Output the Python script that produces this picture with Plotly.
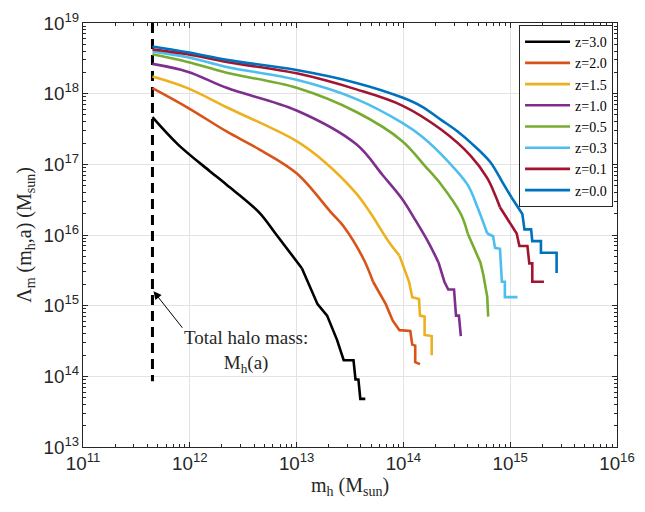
import numpy as np
import plotly.graph_objects as go

labels = ["z=3.0", "z=2.0", "z=1.5", "z=1.0", "z=0.5", "z=0.3", "z=0.1", "z=0.0"]
colors = ["#000000", "#D95319", "#EDB120", "#7E2F8E", "#77AC30", "#4DBEEE", "#A2142F", "#0072BD"]

m_z30 = [4.47e11, 7.73e11, 1.55e12, 2.21e12, 4.43e12, 6.34e12, 1.12e13, 1.57e13, 1.93e13, 2.39e13, 2.76e13, 3.41e13, 3.56e13, 3.79e13, 3.95e13, 4.40e13]
L_z30 = [4.65e17, 1.92e17, 7.94e16, 5.15e16, 2.11e16, 1.05e16, 3.39e15, 1.05e15, 7.23e14, 3.28e14, 1.69e14, 1.69e14, 9.02e13, 9.02e13, 4.80e13, 4.80e13]

m_z20 = [4.47e11, 9.53e11, 2.21e12, 4.43e12, 1.0e13, 2.09e13, 2.76e13, 4.21e13, 5.20e13, 6.84e13, 7.93e13, 9.18e13, 1.16e14, 1.21e14, 1.29e14, 1.29e14, 1.43e14]
L_z20 = [1.20e18, 6.37e17, 2.92e17, 1.64e17, 7.46e16, 2.11e16, 1.32e16, 4.65e15, 2.18e15, 1.05e15, 6.17e14, 4.50e14, 4.37e14, 2.81e14, 2.72e14, 1.59e14, 1.49e14]

m_z15 = [4.47e11, 9.53e11, 2.21e12, 1.0e13, 1.82e13, 3.63e13, 4.85e13, 7.43e13, 9.18e13, 1.13e14, 1.21e14, 1.40e14, 1.43e14, 1.58e14, 1.58e14, 1.84e14, 1.84e14]
L_z15 = [1.75e18, 1.20e18, 6.43e17, 2.13e17, 1.09e17, 3.85e16, 2.11e16, 7.69e15, 5.11e15, 2.18e15, 1.32e15, 1.24e15, 7.23e14, 7.00e14, 3.85e14, 3.72e14, 1.98e14]

m_z10 = [4.47e11, 9.53e11, 2.21e12, 1.0e13, 3.63e13, 6.41e13, 9.77e13, 1.29e14, 1.73e14, 2.13e14, 2.42e14, 2.63e14, 2.98e14, 3.11e14, 3.31e14, 3.45e14]
L_z10 = [2.64e18, 2.05e18, 1.21e18, 5.79e17, 1.92e17, 7.00e16, 3.21e16, 1.64e16, 7.69e15, 4.09e15, 2.18e15, 1.69e15, 1.69e15, 7.23e14, 7.23e14, 3.72e14]

m_z05 = [4.47e11, 9.53e11, 2.21e12, 1.0e13, 3.63e13, 9.77e13, 1.58e14, 2.27e14, 3.45e14, 4.00e14, 5.26e14, 5.61e14, 6.10e14, 6.22e14]
L_z05 = [3.61e18, 2.81e18, 1.98e18, 1.21e18, 5.50e17, 2.13e17, 9.59e16, 5.11e16, 1.98e16, 1.05e16, 4.09e15, 2.72e15, 1.32e15, 7.00e14]

m_z03 = [4.47e11, 9.53e11, 2.21e12, 1.0e13, 3.63e13, 9.77e13, 1.49e14, 2.63e14, 4.00e14, 4.94e14, 6.10e14, 6.92e14, 7.21e14, 8.02e14, 8.36e14, 8.91e14, 8.91e14, 1.17e15]
L_z03 = [3.97e18, 3.28e18, 2.39e18, 1.57e18, 8.38e17, 3.85e17, 2.47e17, 1.09e17, 5.11e16, 2.47e16, 1.05e16, 9.60e15, 6.58e15, 6.37e15, 2.18e15, 2.18e15, 1.32e15, 1.32e15]

m_z01 = [4.47e11, 9.53e11, 2.21e12, 1.0e13, 3.63e13, 9.77e13, 2.27e14, 4.27e14, 6.10e14, 7.21e14, 8.02e14, 1.15e15, 1.22e15, 1.45e15, 1.51e15, 1.61e15, 1.61e15, 2.07e15]
L_z01 = [4.23e18, 3.61e18, 2.81e18, 1.94e18, 1.15e18, 6.79e17, 3.08e17, 1.32e17, 6.37e16, 3.72e16, 2.47e16, 1.05e16, 7.00e15, 7.00e15, 3.97e15, 3.97e15, 2.18e15, 2.18e15]

m_z00 = [4.47e11, 9.53e11, 2.21e12, 1.0e13, 3.63e13, 9.77e13, 1.49e14, 2.27e14, 3.22e14, 4.27e14, 6.50e14, 8.53e14, 1.03e15, 1.30e15, 1.36e15, 1.57e15, 1.61e15, 1.94e15, 1.94e15, 2.72e15, 2.72e15]
L_z00 = [4.65e18, 3.85e18, 3.01e18, 2.16e18, 1.42e18, 8.81e17, 6.58e17, 4.23e17, 2.92e17, 2.03e17, 1.08e17, 5.46e16, 3.39e16, 1.98e16, 1.20e16, 1.20e16, 8.20e15, 8.20e15, 5.61e15, 5.61e15, 2.90e15]

masses = [m_z30, m_z20, m_z15, m_z10, m_z05, m_z03, m_z01, m_z00]
lambdas = [L_z30, L_z20, L_z15, L_z10, L_z05, L_z03, L_z01, L_z00]
# index where the smooth part ends and the stepped (resolution-limited) tail begins
smooth_end = [6, 8, 8, 9, 9, 10, 10, 12]

halo_mass = 4.47e11
halo_line_y = [1e19, 8.5e13]
arrow_target_y = 1.6e15

serif = "Liberation Serif, Times New Roman, serif"
sans = "Liberation Sans, Arial, Helvetica, sans-serif"
axcol = "#262626"

fig = go.Figure()
fig.add_trace(go.Scatter(x=[halo_mass, halo_mass], y=halo_line_y, mode="lines",
                         line=dict(color="black", width=3, dash="10px,6px"),
                         showlegend=False, hoverinfo="skip"))
for lab, col, mx, ly, k in zip(labels, colors, masses, lambdas, smooth_end):
    fig.add_trace(go.Scatter(x=mx[:k + 1], y=ly[:k + 1], mode="lines", name=lab,
                             line=dict(color=col, width=2.6, shape="spline", smoothing=1.0)))
    fig.add_trace(go.Scatter(x=mx[k:], y=ly[k:], mode="lines", name=lab, showlegend=False,
                             line=dict(color=col, width=2.6)))

axis_common = dict(type="log", showline=True, linecolor=axcol, linewidth=1, mirror="ticks",
                   ticks="inside", ticklen=5, tickcolor=axcol, dtick=1,
                   exponentformat="power", showexponent="all", ticklabeloverflow="allow",
                   showgrid=True, gridcolor="#e3e3e3", gridwidth=1, zeroline=False,
                   tickfont=dict(family=sans, size=15, color=axcol),
                   minor=dict(ticks="inside", ticklen=3, tickcolor=axcol, dtick="D1", showgrid=False))

fig.update_layout(
    width=645, height=512,
    margin=dict(l=83, r=18, t=10, b=65),
    paper_bgcolor="white", plot_bgcolor="white",
    xaxis=dict(range=[11 - 1e-4, 16 + 1e-4],
               title=dict(text="m<sub>h</sub> (M<sub>sun</sub>)", font=dict(family=serif, size=20, color=axcol), standoff=4),
               **axis_common),
    yaxis=dict(range=[13 - 1e-4, 19 + 1e-4],
               title=dict(text="Λ<sub>m</sub> (m<sub>h</sub>,a) (M<sub>sun</sub>)", font=dict(family=serif, size=20, color=axcol), standoff=6),
               **axis_common),
    legend=dict(x=0.9926, y=0.995, xanchor="right", yanchor="top",
                bgcolor="white", bordercolor=axcol, borderwidth=1,
                font=dict(family=serif, size=14, color="black"),
                tracegroupgap=0, itemwidth=45),
    showlegend=True,
)

fig.add_annotation(x=np.log10(halo_mass) + 0.01, y=np.log10(arrow_target_y), xref="x", yref="y",
                   text="", showarrow=True, arrowhead=2, arrowsize=1.6, arrowwidth=1,
                   arrowcolor="black", ax=30, ay=38)
fig.add_annotation(x=np.log10(halo_mass) + 0.88, y=np.log10(arrow_target_y) - 0.85, xref="x", yref="y",
                   text="Total halo mass:<br>M<sub>h</sub>(a)", showarrow=False,
                   font=dict(family=serif, size=19, color=axcol), align="center")

# remove the default page margin so the figure sits at the window's top-left corner
fig.write_html("out.html", config={"displayModeBar": False},
               post_script="document.body.style.margin='0';document.body.style.overflow='hidden';")
